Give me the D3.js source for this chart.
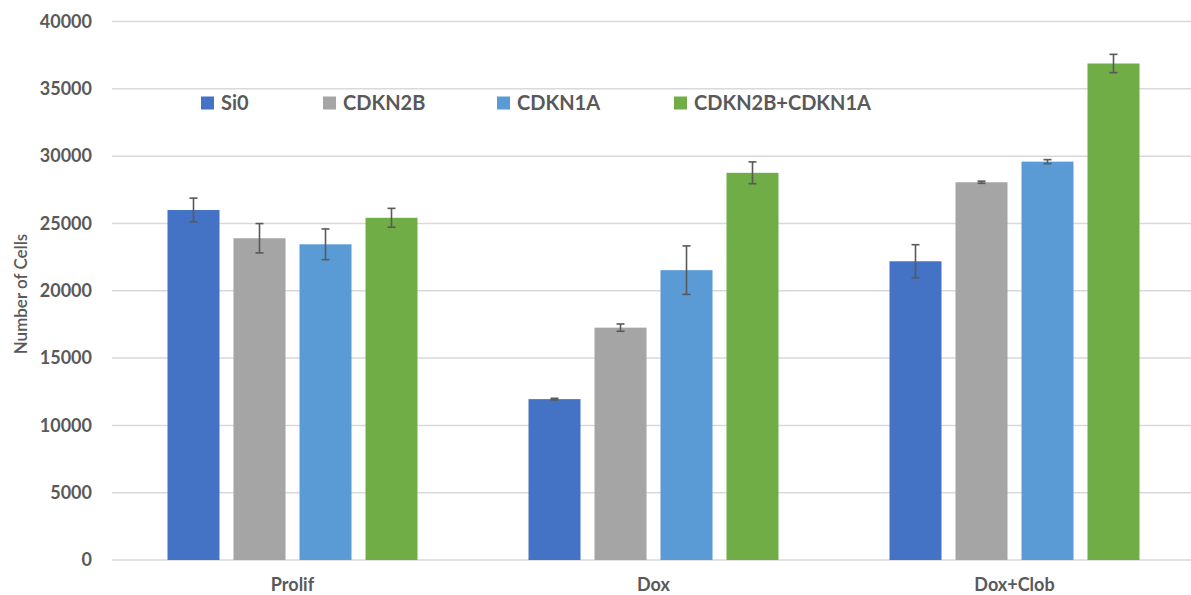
<!DOCTYPE html>
<html>
<head>
<meta charset="utf-8">
<script src="https://cdn.jsdelivr.net/npm/d3@7"></script>
<style>
  html, body { margin: 0; padding: 0; background: #ffffff; }
  svg { display: block; }
  text { font-family: Lato, "Open Sans", sans-serif; fill: #595959; }
</style>
</head>
<body>
<svg id="chart" width="1191" height="595"></svg>
<script>
// Cell counts per condition, one array per knockdown series
const categories = ["Prolif", "Dox", "Dox+Clob"];
const seriesNames = ["Si0", "CDKN2B", "CDKN1A", "CDKN2B+CDKN1A"];
const si0 = [26000, 11950, 22190];
const cdkn2b = [23900, 17260, 28060];
const cdkn1a = [23450, 21530, 29590];
const combo = [25420, 28760, 36880];
// Error bar half-widths (same order)
const si0Err = [880, 60, 1230];
const cdkn2bErr = [1090, 270, 80];
const cdkn1aErr = [1140, 1800, 150];
const comboErr = [700, 810, 680];
const yTicks = [0, 5000, 10000, 15000, 20000, 25000, 30000, 35000, 40000];
const colors = ["#4472C4", "#A5A5A5", "#5B9BD5", "#70AD47"];

const values = [si0, cdkn2b, cdkn1a, combo];
const errors = [si0Err, cdkn2bErr, cdkn1aErr, comboErr];
const rows = [];
seriesNames.forEach((s, si) => {
  categories.forEach((c, ci) => {
    rows.push({ series: s, cat: c, value: values[si][ci], err: errors[si][ci], color: colors[si] });
  });
});

const svg = d3.select("#chart");
const plotLeft = 112, plotRight = 1195, plotTop = 21.5, plotBottom = 560;

const x0 = d3.scaleBand().domain(categories).range([plotLeft, plotRight]).paddingInner(0).paddingOuter(0);
const x1 = d3.scaleBand().domain(seriesNames).range([0, x0.bandwidth()]).paddingInner(0.212).paddingOuter(0.841);
const y = d3.scaleLinear().domain([0, 40000]).range([plotBottom, plotTop]);

// Horizontal gridlines
svg.append("g").selectAll("line").data(yTicks).join("line")
  .attr("x1", plotLeft).attr("x2", 1191)
  .attr("y1", d => y(d)).attr("y2", d => y(d))
  .attr("stroke", "#D9D9D9").attr("stroke-width", 1.5);

// Y axis tick labels
const yAxis = d3.axisLeft(y).tickValues(yTicks).tickSize(0).tickPadding(20).tickFormat(d3.format("d"));
const yg = svg.append("g").attr("transform", `translate(${plotLeft},0)`).call(yAxis);
yg.select(".domain").remove();
yg.selectAll("text").attr("font-size", 18).attr("font-weight", "bold")
  .attr("fill", "#595959").style("font-family", "Lato, sans-serif");

// X axis category labels
const xAxis = d3.axisBottom(x0).tickSize(0).tickPadding(18);
const xg = svg.append("g").attr("transform", `translate(0,${plotBottom})`).call(xAxis);
xg.select(".domain").remove();
xg.selectAll("text").attr("font-size", 18).attr("font-weight", "bold")
  .attr("fill", "#595959").style("font-family", "Lato, sans-serif");

// Bars
svg.append("g").selectAll("rect").data(rows).join("rect")
  .attr("x", d => x0(d.cat) + x1(d.series))
  .attr("y", d => y(d.value))
  .attr("width", x1.bandwidth())
  .attr("height", d => y(0) - y(d.value))
  .attr("fill", d => d.color);

// Error bars
const eg = svg.append("g").attr("stroke", "#595959").attr("stroke-width", 1.6);
rows.forEach(d => {
  const cx = x0(d.cat) + x1(d.series) + x1.bandwidth() / 2;
  const hi = y(d.value + d.err), lo = y(d.value - d.err);
  eg.append("line").attr("x1", cx).attr("x2", cx).attr("y1", hi).attr("y2", lo);
  eg.append("line").attr("x1", cx - 4).attr("x2", cx + 4).attr("y1", hi).attr("y2", hi);
  eg.append("line").attr("x1", cx - 4).attr("x2", cx + 4).attr("y1", lo).attr("y2", lo);
});

// Legend
const legendX = [201, 323, 497, 674];
const lg = svg.append("g");
seriesNames.forEach((s, i) => {
  lg.append("rect").attr("x", legendX[i]).attr("y", 96.5).attr("width", 13).attr("height", 13).attr("fill", colors[i]);
  lg.append("text").attr("x", legendX[i] + 20).attr("y", 110)
    .attr("font-size", 20).attr("font-weight", "bold").text(s);
});

// Y axis title
svg.append("text")
  .attr("transform", "translate(27,294) rotate(-90)")
  .attr("text-anchor", "middle")
  .attr("font-size", 17)
  .attr("font-weight", 600)
  .text("Number of Cells");
</script>
</body>
</html>
